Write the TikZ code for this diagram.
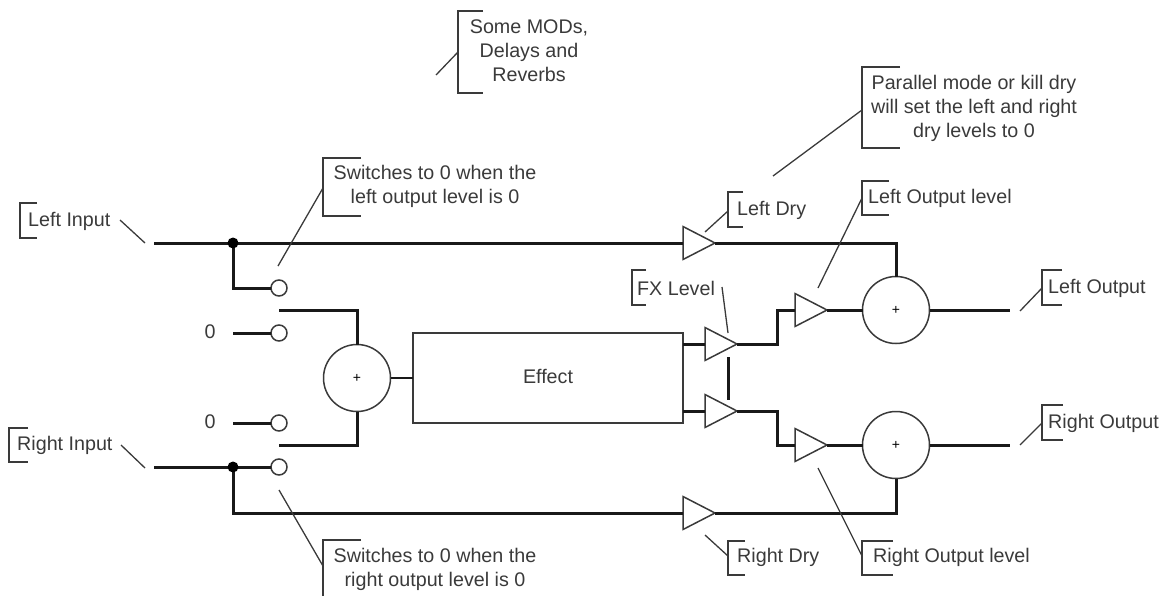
\documentclass[tikz,border=0pt]{standalone}
\usepackage{fontspec}
\setmainfont{Liberation Sans}
\usetikzlibrary{shapes.geometric}
\definecolor{inkgrey}{HTML}{3A3A3A}
\tikzset{
  wire/.style={line width=3pt, black!90},
  leader/.style={line width=1.3pt, inkgrey},
  bracket/.style={line width=1.8pt, inkgrey},
  amp/.style={draw=inkgrey, line width=1.5pt, shape=isosceles triangle, isosceles triangle stretches,
    minimum width=33pt, minimum height=32pt, inner sep=0pt, outer sep=0pt, anchor=west},
  summer/.style={draw=inkgrey, line width=1.5pt, shape=circle, minimum size=67pt, inner sep=0pt, outer sep=0pt,
    font=\fontsize{14}{14}\selectfont},
  contact/.style={draw=inkgrey, line width=1.5pt, shape=circle, minimum size=16pt, inner sep=0pt, outer sep=0pt},
  lbl/.style={font=\fontsize{19.7}{24}\selectfont, text=inkgrey, inner sep=0pt, align=center}
}
\begin{document}
\begin{tikzpicture}[x=1pt, y=-1pt]
  \useasboundingbox (0,0) rectangle (1167,595);
  \clip (0,0) rectangle (1167,595);
  \node[name=effect, draw=inkgrey, line width=1.7pt, minimum width=270pt, minimum height=90pt, inner sep=0pt, outer sep=0pt, lbl] at (548,378) {\raisebox{4pt}{Effect}};
  \foreach \amp/\x/\y in {drl/683/243, drr/683/513, fxl/705/344, fxr/705/411, outl/795/310, outr/795/445}
    \node[name=\amp, amp] at (\x,\y) {};
  \foreach \sm/\x/\y in {sumin/357/378, suml/896/310, sumr/896/445}
    \node[name=\sm, summer] at (\x,\y) {+};
  \foreach \sw/\y in {swl/288, swa/333, swb/423, swr/467}
    \node[name=\sw, contact] at (279,\y) {};
  \foreach \cn/\x/\y in {inl/154/243, inr/154/467, tapl/233/243, tapr/233/467, zeroa/233/333, zerob/233/423,
      cona/279/310, conb/279/445, fxa/728/357, fxb/728/400, ol/1010/310, or/1010/445, effl/683/344, effr/683/411}
    \coordinate (\cn) at (\x,\y);
  \draw[wire] (inl) -- (drl.west);
  \draw[wire] (drl.apex) -| (suml.north);
  \draw[wire] (tapl) |- (swl.west);
  \draw[wire] (inr) -- (swr.west);
  \draw[wire] (tapr) |- (drr.west);
  \draw[wire] (drr.apex) -| (sumr.south);
  \draw[wire] (zeroa) -- (swa.west);
  \draw[wire] (zerob) -- (swb.west);
  \draw[wire] (cona) -| (sumin.north);
  \draw[wire] (conb) -| (sumin.south);
  \draw[wire, line width=2pt] (sumin.east) -- (sumin.east -| effect.west);
  \draw[wire] (effl) -- (fxl.west);
  \draw[wire] (effr) -- (fxr.west);
  \draw[wire] (fxa) -- (fxb);
  \draw[wire] (fxl.apex) -- ++(40,0) |- (outl.west);
  \draw[wire] (fxr.apex) -- ++(40,0) |- (outr.west);
  \draw[wire] (outl.apex) -- (suml.west);
  \draw[wire] (outr.apex) -- (sumr.west);
  \draw[wire] (suml.east) -- (ol);
  \draw[wire] (sumr.east) -- (or);
  \fill[black] (tapl) circle (5.5pt) (tapr) circle (5.5pt);
  \foreach \tag/\bx/\top/\bot/\arm/\mid/\fx/\fy in
    { mods/458/11/93/25/52/436/75, parallel/862/67/148/38/110/773/176,
      swtop/323/158/216/38/188/278/266, swbot/323/540/610/38/566/279/490,
      linput/20/203/238/17/220/0/0, rinput/9/428/462/19/445/0/0,
      ldry/728/192/227/15/211/705/232, rdry/728/541/575/17/556/705/535,
      lout/862/181/215/27/198/818/288, rout/862/541/575/31/556/818/468,
      fxlev/632/270/305/14/287/0/0, lo/1042/270/305/20/288/1020/311, ro/1042/405/440/21/423/1020/445}
  {
    \draw[bracket] ({\bx+\arm},\top) -- (\bx,\top) -- (\bx,\bot) -- ({\bx+\arm},\bot);
    \coordinate (\tag) at (\bx,\mid);
    \ifnum\fx>0
      \coordinate (\tag-end) at (\fx,\fy);
      \draw[leader] (\tag-end) -- (\tag);
    \fi
  }
  \foreach \cn/\x/\y/\u/\v in {lia/120/220/145/243, ria/121/445/145/468, fxa/722/287/728/333}
  {
    \coordinate (\cn-p) at (\x,\y);
    \coordinate (\cn-q) at (\u,\v);
    \draw[leader] (\cn-p) -- (\cn-q);
  }
  \node[name=tmods, lbl] at (529,51) {Some MODs,\\Delays and\\Reverbs};
  \node[name=tparallel, lbl] at (974,108) {Parallel mode or kill dry\\will set the left and right\\dry levels to 0};
  \node[name=tswtop, lbl] at (435,186) {Switches to 0 when the\\left output level is 0};
  \node[name=tswbot, lbl] at (435,569) {Switches to 0 when the\\right output level is 0};
  \foreach \nm/\x/\y/\txt in
    { tli/28/221/Left Input, tri/17/445/Right Input, tldry/737/210/Left Dry, trdry/737/557/Right Dry,
      tlout/868/198/Left Output level, trout/873/557/Right Output level, tfx/637/288/FX Level,
      tlo/1048/288/Left Output, tro/1048/423/Right Output}
    \node[name=\nm, lbl, anchor=west] at (\x,\y) {\txt};
  \node[name=tza, lbl] at (210,332) {0};
  \node[name=tzb, lbl] at (210,422) {0};
\end{tikzpicture}
\end{document}
